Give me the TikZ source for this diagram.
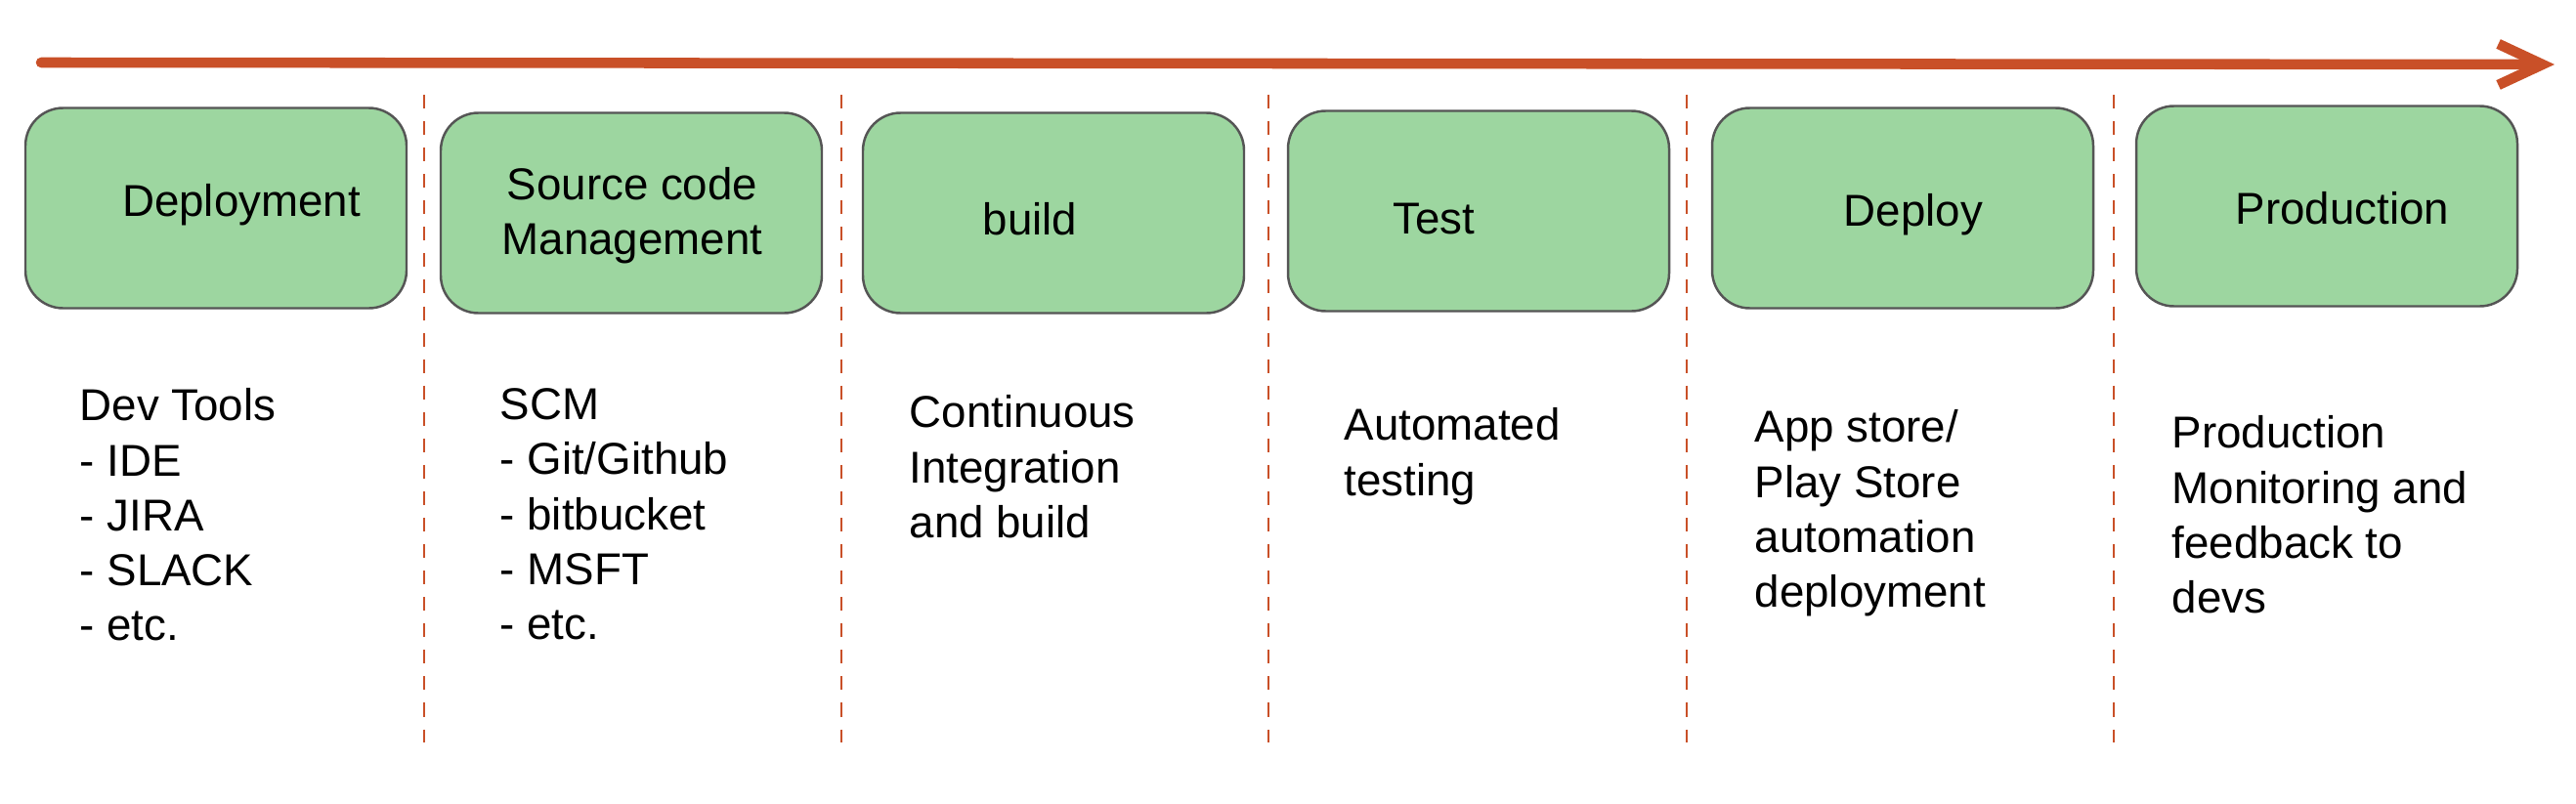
\documentclass[tikz,border=0pt]{standalone}
\usepackage{fontspec}
\setmainfont{Liberation Sans}
\usepackage{tikz}
\usetikzlibrary{arrows.meta}
\definecolor{flowgreen}{RGB}{157,214,160}
\definecolor{flowedge}{RGB}{85,85,85}
\definecolor{flowrust}{RGB}{201,80,40}

\begin{document}
\begin{tikzpicture}[
  x=1cm, y=1cm, font=\fontsize{13}{16}\selectfont,
  stage/.style={draw=flowedge, line width=0.7pt, rounded corners=11pt, fill=flowgreen, minimum width=3.9cm, minimum height=2.05cm},
  stagetext/.style={align=center, inner sep=0pt},
  notes/.style={align=left, anchor=north west, inner sep=0pt},
  split/.style={flowrust, line width=0.8pt, dash pattern=on 4pt off 3.7pt},
  flow/.style={flowrust, line width=3pt, line cap=round, -{Straight Barb[length=4.5mm, width=4.2mm]}}
]
\useasboundingbox (0,0) rectangle (26.36,8.22);

% pipeline direction (top)
\coordinate (flowstart) at (0.42,7.58);
\coordinate (flowend) at (26.14,7.56);
\draw[flow] (flowstart) -- (flowend);

% stage boxes
\foreach \i/\bx/\by in {1/2.21/6.09, 2/6.46/6.04, 3/10.78/6.04, 4/15.13/6.06, 5/19.47/6.09, 6/23.81/6.11} {
  \node[stage] (stage\i) at (\bx,\by) {};
}

% stage names
\node[stagetext] (name1) at (2.47,6.12) {Deployment};
\node[stagetext] (name2) at (6.47,6.01) {Source code\\Management};
\node[stagetext] (name3) at (10.54,5.98) {build};
\node[stagetext] (name4) at (14.67,5.98) {Test};
\node[stagetext] (name5) at (19.58,6.02) {Deploy};
\node[stagetext] (name6) at (23.97,6.09) {Production};

% separators between stages
\foreach \x in {4.34, 8.61, 12.98, 17.26, 21.63} {
  \draw[split] (\x,7.25) -- (\x,0.62);
}

% details under each stage
\node[notes] (note1) at (0.81,4.25) {Dev Tools\\- IDE\\- JIRA\\- SLACK\\- etc.};
\node[notes] (note2) at (5.11,4.25) {SCM\\- Git/Github\\- bitbucket\\- MSFT\\- etc.};
\node[notes] (note3) at (9.30,4.18) {Continuous\\Integration\\and build};
\node[notes] (note4) at (13.75,4.05) {Automated\\testing};
\node[notes] (note5) at (17.95,4.03) {App store/\\Play Store\\automation\\deployment};
\node[notes] (note6) at (22.22,3.97) {Production\\Monitoring and\\feedback to\\devs};
\end{tikzpicture}
\end{document}
